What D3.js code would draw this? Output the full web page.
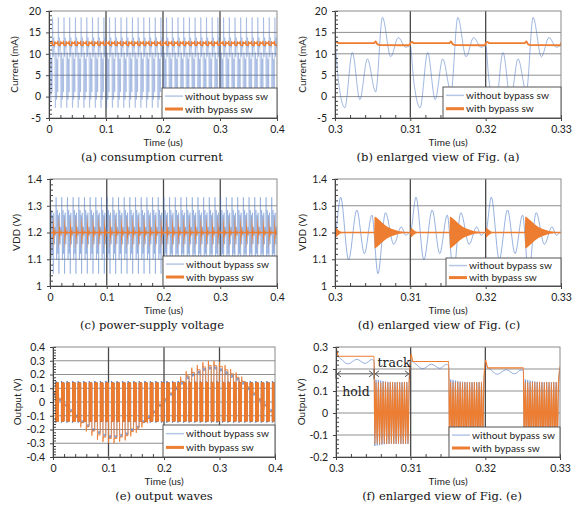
<!DOCTYPE html>
<html lang="en">
<head>
<meta charset="UTF-8">
<title>Bypass switch waveforms</title>
<script src="https://d3js.org/d3.v7.min.js"></script>
<style>
    body { margin: 0; background: #fff; }
    svg { display: block; }
    .tick-label, .axis-title, .legend-text { font-family: Lato, "Open Sans", sans-serif; fill: #222; }
    .tick-label { font-size: 10.5px; }
    .axis-title { font-size: 10px; }
    .legend-text { font-size: 10.2px; }
    .caption { font-family: "DejaVu Serif", serif; font-size: 11.5px; fill: #111; }
    .note { font-family: "DejaVu Serif", serif; font-size: 12.5px; fill: #222; }
</style>
<script>

    const PERIOD = 0.01;        // us, one sample/hold clock cycle
    const N_PERIODS = 40;       // 0 .. 0.4 us

    // (b) one clock cycle of consumption current: [offset in cycle (us), mA]
    const currentWithoutCycle = [
        [0, 11.9], [0.0004, 4.5], [0.0013, -2.6], [0.0023, 10.3], [0.0033, -0.7],
        [0.0043, 8.8], [0.0054, 1.1], [0.0063, 18.5], [0.0074, 9.3], [0.0084, 13.8],
        [0.0094, 11.5], [0.0099, 11.9]
    ];
    const currentWithCycle = [
        [0, 12.4], [0.0002, 12.8], [0.0005, 12.5], [0.0052, 12.5], [0.0054, 12.9],
        [0.0056, 12.3], [0.006, 12.05], [0.0099, 12.0]
    ];

    // (d) one clock cycle of supply voltage: [offset (us), V]
    const vddWithoutCycle = [
        [0, 1.2], [0.00075, 1.332], [0.0018, 1.098], [0.0029, 1.284], [0.0039, 1.121],
        [0.0049, 1.265], [0.0057, 1.046], [0.0067, 1.274], [0.0078, 1.156], [0.0088, 1.221],
        [0.0094, 1.19], [0.0099, 1.2]
    ];
    // ringing of the "with bypass sw" supply: [offset (us), half amplitude around 1.2 V]
    const vddWithBurst = [
        [0, 0], [0.00005, 0.02], [0.0002, 0.016], [0.0004, 0.01], [0.0007, 0.004],
        [0.001, 0.001], [0.0012, 0], [0.0052, 0], [0.00525, 0.06], [0.0055, 0.056],
        [0.006, 0.044], [0.0065, 0.031], [0.007, 0.021], [0.0075, 0.014], [0.008, 0.009],
        [0.0085, 0.005], [0.009, 0.003], [0.0095, 0.001], [0.0099, 0]
    ];
    const vddWithLevel = [[0, 1.2], [0.4, 1.2]];

    // (e) held output value of each clock cycle (V)
    const holdWithout = [
        0.06, 0.02, -0.02, -0.06, -0.10, -0.14, -0.17, -0.20, -0.22, -0.24,
        -0.25, -0.25, -0.24, -0.23, -0.20, -0.18, -0.14, -0.11, -0.07, -0.02,
        0.02, 0.06, 0.10, 0.14, 0.18, 0.20, 0.22, 0.24, 0.25, 0.25,
        0.237, 0.215, 0.19, 0.17, 0.14, 0.10, 0.06, 0.02, -0.02, -0.06
    ];
    const holdWith = [
        0.07, 0.02, -0.02, -0.07, -0.11, -0.15, -0.18, -0.21, -0.24, -0.255,
        -0.265, -0.265, -0.255, -0.245, -0.215, -0.19, -0.15, -0.12, -0.075, -0.02,
        0.02, 0.065, 0.11, 0.15, 0.19, 0.215, 0.235, 0.255, 0.265, 0.265,
        0.258, 0.234, 0.205, 0.18, 0.15, 0.11, 0.065, 0.02, -0.02, -0.07
    ];
    // (f) shape of the hold phase: [offset (us), deviation from held value (V)]
    const holdRippleWithout = [
        [0.00005, 0.022], [0.0006, 0.01], [0.0016, -0.014], [0.0028, 0.007],
        [0.0039, -0.012], [0.0048, 0.006], [0.0051, 0]
    ];
    const holdFlatWith = [[0.0003, 0], [0.0051, 0]];
    const holdSpikeWith = 0.034;
    // (f) track phase swings, spread from TRACK_START to TRACK_END
    const TRACK_START = 0.0052;
    const TRACK_END = 0.0098;
    const trackWithout = [
        -0.15, 0.152, -0.148, 0.15, -0.146, 0.147, -0.144, 0.145, -0.142, 0.143,
        -0.141, 0.142, -0.14, 0.141, -0.14, 0.14, -0.14, 0.14, -0.14, 0.14,
        -0.14, 0.14, -0.14, 0.14, -0.14, 0.14, -0.14, 0.14, -0.14, 0.14
    ];
    const trackWith = [
        -0.14, 0.14, -0.138, 0.14, -0.14, 0.138, -0.14, 0.14, -0.138, 0.14,
        -0.14, 0.138, -0.14, 0.14, -0.138, 0.14, -0.14, 0.138, -0.14, 0.14,
        -0.138, 0.14, -0.14, 0.138, -0.14, 0.14, -0.138, 0.14, -0.14, 0.138
    ];

    // ticks
    const timeTicksFull = [0, 0.1, 0.2, 0.3, 0.4];
    const timeTicksZoom = [0.3, 0.31, 0.32, 0.33];
    const currentTicks = [-5, 0, 5, 10, 15, 20];
    const vddTicks = [1, 1.1, 1.2, 1.3, 1.4];
    const outputTicksFull = [-0.4, -0.3, -0.2, -0.1, 0, 0.1, 0.2, 0.3, 0.4];
    const outputTicksZoom = [-0.2, -0.1, 0, 0.1, 0.2, 0.3];

    const legendLabels = ["without bypass sw", "with bypass sw"];
    const captions = [
        "(a) consumption current", "(b) enlarged view of Fig. (a)",
        "(c) power-supply voltage", "(d) enlarged view of Fig. (c)",
        "(e) output waves", "(f) enlarged view of Fig. (e)"
    ];

    const BLUE = "#4472C4";
    const ORANGE = "#ED7D31";

    document.addEventListener("DOMContentLoaded", () => makeFigure());

    function tile(cycle) {
        const pts = [];
        for (let k = 0; k < N_PERIODS; k++) {
            cycle.forEach(([dt, v]) => pts.push([k * PERIOD + dt, v]));
        }
        pts.push([N_PERIODS * PERIOD, cycle[0][1]]);
        return pts;
    }

    function sampledOutput(holds, hold, spike, track) {
        const pts = [];
        const step = (TRACK_END - TRACK_START) / (track.length - 1);
        holds.forEach((h, k) => {
            const t0 = k * PERIOD;
            if (spike) pts.push([t0 + 0.00005, h + (h >= 0 ? spike : -spike)]);
            hold.forEach(([dt, dv]) => pts.push([t0 + dt, h + dv]));
            track.forEach((v, i) => pts.push([t0 + TRACK_START + i * step, v]));
        });
        return pts;
    }

    const fmt = v => String(+v.toFixed(3));

    function drawPanel(svg, p) {
        const b = p.box;
        const x = d3.scaleLinear().domain(p.xDomain).range([b.left, b.right]);
        const y = d3.scaleLinear().domain([p.yTicks[0], p.yTicks[p.yTicks.length - 1]]).range([b.bottom, b.top]);
        const g = svg.append("g");

        g.append("clipPath").attr("id", "clip-" + p.id)
            .append("rect").attr("x", b.left).attr("y", b.top)
            .attr("width", b.right - b.left).attr("height", b.bottom - b.top);

        // grid
        g.append("g").selectAll("line").data(p.yTicks.slice(1, -1)).join("line")
            .attr("x1", b.left).attr("x2", b.right)
            .attr("y1", d => y(d)).attr("y2", d => y(d))
            .attr("stroke", "#8f8f8f").attr("stroke-width", 1);
        g.append("g").selectAll("line").data(p.xTicks.slice(1, -1)).join("line")
            .attr("y1", b.top).attr("y2", b.bottom)
            .attr("x1", d => x(d)).attr("x2", d => x(d))
            .attr("stroke", "#4a4a4a").attr("stroke-width", 1.3);

        // series
        const plot = g.append("g").attr("clip-path", "url(#clip-" + p.id + ")");
        p.series.forEach(s => {
            if (s.type === "area") {
                plot.append("path").datum(s.data)
                    .attr("fill", s.color).attr("fill-opacity", s.opacity || 1)
                    .attr("d", d3.area()
                        .x(d => x(d[0]))
                        .y0(d => y(s.base - d[1]))
                        .y1(d => y(s.base + d[1])));
            } else {
                plot.append("path").datum(s.data)
                    .attr("fill", "none")
                    .attr("stroke", s.color)
                    .attr("stroke-opacity", s.opacity || 1)
                    .attr("stroke-width", s.width)
                    .attr("stroke-linejoin", "round")
                    .attr("d", d3.line()
                        .x(d => x(d[0])).y(d => y(d[1]))
                        .curve(s.curve || d3.curveLinear));
            }
        });

        // frame
        g.append("rect").attr("x", b.left).attr("y", b.top)
            .attr("width", b.right - b.left).attr("height", b.bottom - b.top)
            .attr("fill", "none").attr("stroke", "#8a8a8a").attr("stroke-width", 1);

        // minor ticks
        const yMinor = [];
        for (let i = 0; i < p.yTicks.length - 1; i++) {
            const a = p.yTicks[i], c = p.yTicks[i + 1];
            for (let j = 1; j < 5; j++) yMinor.push(a + (c - a) * j / 5);
        }
        const xMinor = [];
        for (let i = 0; i < p.xTicks.length - 1; i++) {
            const a = p.xTicks[i], c = p.xTicks[i + 1];
            for (let j = 1; j < 5; j++) xMinor.push(a + (c - a) * j / 5);
        }
        const yAxis = g.append("g").attr("transform", "translate(" + b.left + ",0)")
            .call(d3.axisLeft(y).tickValues(yMinor).tickSize(-3).tickFormat(""));
        yAxis.select(".domain").attr("stroke", "#444");
        yAxis.selectAll(".tick line").attr("stroke", "#444");
        const yMajor = g.append("g").attr("transform", "translate(" + b.left + ",0)")
            .call(d3.axisLeft(y).tickValues(p.yTicks).tickSize(3).tickPadding(5).tickFormat(fmt));
        yMajor.select(".domain").remove();
        yMajor.selectAll(".tick line").attr("stroke", "#444");
        yMajor.selectAll("text").attr("class", "tick-label").attr("font-family", null).attr("font-size", null).attr("fill", null);

        const xAxis = g.append("g").attr("transform", "translate(0," + b.bottom + ")")
            .call(d3.axisBottom(x).tickValues(xMinor).tickSize(-3).tickFormat(""));
        xAxis.select(".domain").attr("stroke", "#444");
        xAxis.selectAll(".tick line").attr("stroke", "#444");
        const xMajor = g.append("g").attr("transform", "translate(0," + b.bottom + ")")
            .call(d3.axisBottom(x).tickValues(p.xTicks).tickSize(3).tickPadding(5).tickFormat(fmt));
        xMajor.select(".domain").remove();
        xMajor.selectAll(".tick line").attr("stroke", "#444");
        xMajor.selectAll("text").attr("class", "tick-label").attr("font-family", null).attr("font-size", null).attr("fill", null);

        // titles
        g.append("text").attr("class", "axis-title")
            .attr("x", (b.left + b.right) / 2).attr("y", b.bottom + 28)
            .attr("text-anchor", "middle").text("Time (us)");
        g.append("text").attr("class", "axis-title")
            .attr("transform", "translate(" + p.yTitleX + "," + (b.top + b.bottom) / 2 + ") rotate(-90)")
            .attr("text-anchor", "middle").attr("dy", "0.35em").text(p.yTitle);
        g.append("text").attr("class", "caption")
            .attr("x", p.captionX).attr("y", b.bottom + 43)
            .attr("text-anchor", "middle").text(p.caption);

        // legend
        const L = p.legend;
        const lg = g.append("g").attr("transform", "translate(" + L.x + "," + L.y + ")");
        lg.append("rect").attr("width", L.w).attr("height", L.h)
            .attr("fill", "#fff").attr("stroke", "#555").attr("stroke-width", 1);
        const rows = [
            {label: legendLabels[0], color: "#b4c7e7", width: 1.5, y: L.h * 0.27},
            {label: legendLabels[1], color: ORANGE, width: 3, y: L.h * 0.7}
        ];
        rows.forEach(r => {
            lg.append("line").attr("x1", 3).attr("x2", 21).attr("y1", r.y).attr("y2", r.y)
                .attr("stroke", r.color).attr("stroke-width", r.width);
            lg.append("text").attr("class", "legend-text")
                .attr("x", 23).attr("y", r.y).attr("dy", "0.35em").text(r.label);
        });

        return {x, y, g};
    }

    function makeFigure() {
        const svg = d3.select("#figure").attr("width", 574).attr("height", 508);

        const currentWithout = tile(currentWithoutCycle);
        const currentWith = tile(currentWithCycle);
        const vddWithout = tile(vddWithoutCycle);
        const vddBurst = tile(vddWithBurst);
        const outWithout = sampledOutput(holdWithout, holdRippleWithout, 0, trackWithout);
        const outWith = sampledOutput(holdWith, holdFlatWith, holdSpikeWith, trackWith);

        // full-range panels: dense traces drawn lighter, as in the reference
        const currentFull = [
            {data: currentWithout, color: BLUE, width: 0.8, opacity: 0.38, curve: d3.curveMonotoneX},
            {data: currentWith, color: ORANGE, width: 1.6, curve: d3.curveMonotoneX}
        ];
        const currentZoom = [
            {data: currentWithout, color: BLUE, width: 1, opacity: 0.5, curve: d3.curveMonotoneX},
            {data: currentWith, color: ORANGE, width: 1.8, curve: d3.curveMonotoneX}
        ];
        const vddFull = [
            {data: vddWithout, color: BLUE, width: 0.8, opacity: 0.45, curve: d3.curveMonotoneX},
            {type: "area", data: vddBurst, base: 1.2, color: ORANGE},
            {data: vddWithLevel, color: ORANGE, width: 1.5}
        ];
        const vddZoom = [
            {data: vddWithout, color: BLUE, width: 1, opacity: 0.55, curve: d3.curveMonotoneX},
            {type: "area", data: vddBurst, base: 1.2, color: ORANGE},
            {data: vddWithLevel, color: ORANGE, width: 1.5}
        ];
        const outFull = [
            {data: outWithout, color: BLUE, width: 1, opacity: 0.55, curve: d3.curveMonotoneX},
            {data: outWith, color: ORANGE, width: 1, opacity: 0.9, curve: d3.curveMonotoneX}
        ];
        const outZoom = [
            {data: outWithout, color: BLUE, width: 1, opacity: 0.55, curve: d3.curveMonotoneX},
            {data: outWith, color: ORANGE, width: 1.2, curve: d3.curveMonotoneX}
        ];

        drawPanel(svg, {
            id: "a", box: {left: 49, right: 277, top: 11, bottom: 118},
            xDomain: [0, 0.4], xTicks: timeTicksFull, yTicks: currentTicks,
            yTitle: "Current (mA)", yTitleX: 14, caption: captions[0], captionX: 152,
            legend: {x: 162, y: 88, w: 115, h: 30}, series: currentFull
        });
        drawPanel(svg, {
            id: "b", box: {left: 335, right: 561, top: 11, bottom: 118},
            xDomain: [0.3, 0.33], xTicks: timeTicksZoom, yTicks: currentTicks,
            yTitle: "Current (mA)", yTitleX: 302, caption: captions[1], captionX: 438,
            legend: {x: 443, y: 87, w: 118, h: 31}, series: currentZoom
        });
        drawPanel(svg, {
            id: "c", box: {left: 50, right: 277, top: 179, bottom: 286},
            xDomain: [0, 0.4], xTicks: timeTicksFull, yTicks: vddTicks,
            yTitle: "VDD (V)", yTitleX: 16, caption: captions[2], captionX: 152,
            legend: {x: 163, y: 256, w: 114, h: 30}, series: vddFull
        });
        drawPanel(svg, {
            id: "d", box: {left: 335, right: 561, top: 179, bottom: 286},
            xDomain: [0.3, 0.33], xTicks: timeTicksZoom, yTicks: vddTicks,
            yTitle: "VDD (V)", yTitleX: 302, caption: captions[3], captionX: 439,
            legend: {x: 446, y: 258, w: 115, h: 28}, series: vddZoom
        });
        drawPanel(svg, {
            id: "e", box: {left: 53, right: 275, top: 347, bottom: 457},
            xDomain: [0, 0.4], xTicks: timeTicksFull, yTicks: outputTicksFull,
            yTitle: "Output (V)", yTitleX: 17, caption: captions[4], captionX: 164,
            legend: {x: 163, y: 425, w: 112, h: 32}, series: outFull
        });
        const f = drawPanel(svg, {
            id: "f", box: {left: 336, right: 560, top: 347, bottom: 457},
            xDomain: [0.3, 0.33], xTicks: timeTicksZoom, yTicks: outputTicksZoom,
            yTitle: "Output (V)", yTitleX: 301, caption: captions[5], captionX: 442,
            legend: {x: 449, y: 427, w: 111, h: 30}, series: outZoom
        });

        // hold / track annotation
        const t0 = 0.3, tHold = 0.3 + 0.0051, t1 = 0.3099;
        const ay = f.y(0.178);
        const ann = f.g.append("g").attr("stroke", "#555").attr("stroke-width", 1).attr("fill", "none");
        [t0, tHold, t1].forEach(t => {
            ann.append("line").attr("x1", f.x(t)).attr("x2", f.x(t)).attr("y1", ay - 5).attr("y2", ay + 5);
        });
        [[t0, tHold], [tHold, t1]].forEach(([a, c]) => {
            const xa = f.x(a) + 1, xc = f.x(c) - 1;
            ann.append("line").attr("x1", xa).attr("x2", xc).attr("y1", ay).attr("y2", ay);
            ann.append("path").attr("d", "M" + (xa + 4) + "," + (ay - 3) + "L" + xa + "," + ay + "L" + (xa + 4) + "," + (ay + 3));
            ann.append("path").attr("d", "M" + (xc - 4) + "," + (ay - 3) + "L" + xc + "," + ay + "L" + (xc - 4) + "," + (ay + 3));
        });
        f.g.append("text").attr("class", "note").attr("x", f.x(0.30778)).attr("y", f.y(0.21))
            .attr("text-anchor", "middle").text("track");
        f.g.append("text").attr("class", "note").attr("x", f.x(0.30268)).attr("y", f.y(0.078))
            .attr("text-anchor", "middle").text("hold");
    }

</script>
</head>
<body>
    <svg id="figure"></svg>
</body>
</html>
